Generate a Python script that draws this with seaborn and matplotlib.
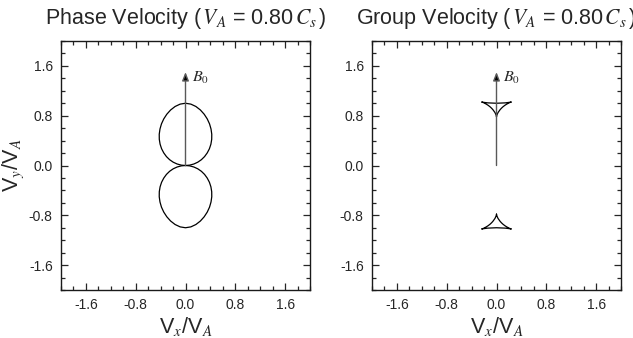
import matplotlib
matplotlib.use("Agg")
import matplotlib.pyplot as plt
import seaborn as sns
from matplotlib.ticker import MultipleLocator

# slow-mode phase velocity polar curve, V_A = 0.80 C_s (units of V_A)
phase_upper_x = [0.000, 0.068, 0.134, 0.197, 0.255, 0.306, 0.349, 0.384, 0.408, 0.421,
                 0.422, 0.410, 0.386, 0.349, 0.300, 0.239, 0.167, 0.086, 0.000,
                 -0.086, -0.167, -0.239, -0.300, -0.349, -0.386, -0.410, -0.422,
                 -0.421, -0.408, -0.384, -0.349, -0.306, -0.255, -0.197, -0.134, -0.068, 0.000]
phase_upper_y = [0.000, 0.006, 0.024, 0.053, 0.093, 0.143, 0.202, 0.269, 0.342, 0.421,
                 0.502, 0.586, 0.669, 0.749, 0.824, 0.892, 0.948, 0.986, 1.000,
                 0.986, 0.948, 0.892, 0.824, 0.749, 0.669, 0.586, 0.502,
                 0.421, 0.342, 0.269, 0.202, 0.143, 0.093, 0.053, 0.024, 0.006, 0.000]
phase_lower_x = [0.000, 0.068, 0.134, 0.197, 0.255, 0.306, 0.349, 0.384, 0.408, 0.421,
                 0.422, 0.410, 0.386, 0.349, 0.300, 0.239, 0.167, 0.086, 0.000,
                 -0.086, -0.167, -0.239, -0.300, -0.349, -0.386, -0.410, -0.422,
                 -0.421, -0.408, -0.384, -0.349, -0.306, -0.255, -0.197, -0.134, -0.068, 0.000]
phase_lower_y = [-0.000, -0.006, -0.024, -0.053, -0.093, -0.143, -0.202, -0.269, -0.342, -0.421,
                 -0.502, -0.586, -0.669, -0.749, -0.824, -0.892, -0.948, -0.986, -1.000,
                 -0.986, -0.948, -0.892, -0.824, -0.749, -0.669, -0.586, -0.502,
                 -0.421, -0.342, -0.269, -0.202, -0.143, -0.093, -0.053, -0.024, -0.006, -0.000]

# group velocity cusps
group_upper_x = [0.000, 0.001, 0.008, 0.025, 0.058, 0.080, 0.106, 0.136, 0.168, 0.199,
                 0.226, 0.238, 0.218, 0.140, 0.000, -0.140, -0.218, -0.238, -0.226,
                 -0.199, -0.168, -0.136, -0.106, -0.080, -0.058, -0.025, -0.008, -0.001, 0.000]
group_upper_y = [0.781, 0.789, 0.814, 0.851, 0.897, 0.921, 0.945, 0.968, 0.988, 1.005,
                 1.016, 1.020, 1.016, 1.006, 1.000, 1.006, 1.016, 1.020, 1.016,
                 1.005, 0.988, 0.968, 0.945, 0.921, 0.897, 0.851, 0.814, 0.789, 0.781]
group_lower_x = [0.000, 0.001, 0.008, 0.025, 0.058, 0.080, 0.106, 0.136, 0.168, 0.199,
                 0.226, 0.238, 0.218, 0.140, 0.000, -0.140, -0.218, -0.238, -0.226,
                 -0.199, -0.168, -0.136, -0.106, -0.080, -0.058, -0.025, -0.008, -0.001, 0.000]
group_lower_y = [-0.781, -0.789, -0.814, -0.851, -0.897, -0.921, -0.945, -0.968, -0.988, -1.005,
                 -1.016, -1.020, -1.016, -1.006, -1.000, -1.006, -1.016, -1.020, -1.016,
                 -1.005, -0.988, -0.968, -0.945, -0.921, -0.897, -0.851, -0.814, -0.789, -0.781]

major_ticks = [-1.6, -0.8, 0.0, 0.8, 1.6]
tick_labels = ["-1.6", "-0.8", "0.0", "0.8", "1.6"]
b0_length = 1.5

sns.set_style("ticks")
plt.rcParams["font.family"] = ["Liberation Sans", "DejaVu Sans"]
plt.rcParams["mathtext.fontset"] = "stix"

fig = plt.figure(figsize=(6.33, 3.38), dpi=100)
ax1 = fig.add_axes([61 / 633, 48 / 338, 249 / 633, 249 / 338])
ax2 = fig.add_axes([372 / 633, 48 / 338, 249 / 633, 249 / 338])

curves = {
    ax1: [(phase_upper_x, phase_upper_y), (phase_lower_x, phase_lower_y)],
    ax2: [(group_upper_x, group_upper_y), (group_lower_x, group_lower_y)],
}
titles = {ax1: r"Phase Velocity ($\,V_A$ = 0.80$\,C_s\,$)",
          ax2: r"Group Velocity ($\,V_A$ = 0.80$\,C_s\,$)"}

for ax in (ax1, ax2):
    # B0 arrow first so the curves sit on top
    ax.annotate("", xy=(0, b0_length), xytext=(0, 0),
                arrowprops=dict(arrowstyle="-|>,head_length=0.5,head_width=0.2",
                                ec="0.35", fc="k", lw=1.0, shrinkA=0, shrinkB=0,
                                mutation_scale=10))
    ax.text(0.1, b0_length - 0.1, r"$B_0$", fontsize=11.5, va="center", ha="left")
    for xs, ys in curves[ax]:
        sns.lineplot(x=xs, y=ys, ax=ax, sort=False, estimator=None,
                     color="k", lw=0.9)
    ax.set_xlim(-2, 2)
    ax.set_ylim(-2, 2)
    ax.set_xticks(major_ticks)
    ax.set_xticklabels(tick_labels)
    ax.set_yticks(major_ticks)
    ax.set_yticklabels(tick_labels)
    ax.xaxis.set_minor_locator(MultipleLocator(0.2))
    ax.yaxis.set_minor_locator(MultipleLocator(0.2))
    ax.tick_params(which="both", direction="in", top=True, right=True,
                   labelsize=10, colors="0.15", width=0.9)
    ax.tick_params(which="major", length=5, pad=6)
    ax.tick_params(which="minor", length=3)
    for sp in ax.spines.values():
        sp.set_linewidth(1.0)
        sp.set_color("0.1")
    ax.set_xlabel(r"V$_x$/V$_A$", fontsize=15.5, labelpad=2)
    ax.set_title(titles[ax], fontsize=15.5, pad=12)

ax1.set_ylabel(r"V$_y$/V$_A$", fontsize=15.5, labelpad=2)

fig.savefig("out.png", dpi=100)
